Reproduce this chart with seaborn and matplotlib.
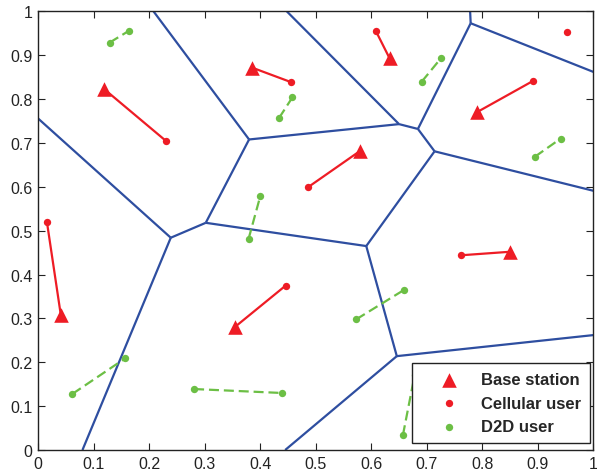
import numpy as np
import pandas as pd
import matplotlib
matplotlib.use("Agg")
import matplotlib.pyplot as plt
import seaborn as sns

# ---- data ----
# base stations and their cellular users
bs_x = [0.119, 0.385, 0.633, 0.790, 0.580, 0.041, 0.355, 0.850]
bs_y = [0.823, 0.872, 0.893, 0.770, 0.682, 0.308, 0.281, 0.452]
cu_x = [0.231, 0.455, 0.608, 0.892, 0.486, 0.016, 0.446, 0.762]
cu_y = [0.704, 0.839, 0.956, 0.842, 0.599, 0.520, 0.375, 0.444]
# lone cellular user
cu_extra_x = [0.952]
cu_extra_y = [0.953]
# D2D pairs (tx, rx)
d2d_x1 = [0.129, 0.434, 0.691, 0.895, 0.379, 0.062, 0.281, 0.573, 0.657]
d2d_y1 = [0.929, 0.757, 0.840, 0.669, 0.481, 0.128, 0.139, 0.298, 0.034]
d2d_x2 = [0.164, 0.458, 0.726, 0.941, 0.400, 0.157, 0.439, 0.659, 0.678]
d2d_y2 = [0.956, 0.804, 0.894, 0.710, 0.578, 0.209, 0.130, 0.365, 0.170]
# Voronoi vertices (inner vertices then border points)
vor_x = [0.239, 0.302, 0.380, 0.650, 0.684, 0.714, 0.779, 0.591, 0.646,
         0.080, 0.000, 0.208, 0.448, 0.778, 1.000, 1.000, 0.445, 1.000]
vor_y = [0.484, 0.518, 0.708, 0.743, 0.732, 0.681, 0.973, 0.465, 0.214,
         0.000, 0.756, 1.000, 1.000, 1.000, 0.862, 0.591, 0.000, 0.262]
vor_edges = [(0, 9), (0, 10), (0, 1), (1, 2), (2, 11), (2, 3), (3, 12), (3, 4),
             (4, 6), (6, 13), (6, 14), (4, 5), (5, 15), (5, 7), (7, 1), (7, 8),
             (8, 16), (8, 17)]
x_ticks = [0, 0.1, 0.2, 0.3, 0.4, 0.5, 0.6, 0.7, 0.8, 0.9, 1]
tick_labels = ["0", "0.1", "0.2", "0.3", "0.4", "0.5", "0.6", "0.7", "0.8", "0.9", "1"]

RED = "#EE1C25"
GREEN = "#6CBF45"
BLUE = "#2E4EA0"

sns.set_style("ticks")
plt.rcParams['font.family'] = ['Liberation Sans', 'DejaVu Sans']

fig = plt.figure(figsize=(5.97, 4.77), dpi=100)
ax = fig.add_axes([0.0637, 0.0545, 0.9303, 0.9195])

# Voronoi edges
for a, b in vor_edges:
    ax.plot([vor_x[a], vor_x[b]], [vor_y[a], vor_y[b]], color=BLUE, lw=1.6,
            solid_capstyle='butt', zorder=2)

# cellular links
for i in range(len(bs_x)):
    ax.plot([bs_x[i], cu_x[i]], [bs_y[i], cu_y[i]], color=RED, lw=1.6, zorder=3)
# D2D links
for i in range(len(d2d_x1)):
    ax.plot([d2d_x1[i], d2d_x2[i]], [d2d_y1[i], d2d_y2[i]], color=GREEN, lw=1.6,
            ls=(0, (4.5, 2.2)), zorder=3)

bs_df = pd.DataFrame({"x": bs_x, "y": bs_y})
cu_df = pd.DataFrame({"x": cu_x + cu_extra_x, "y": cu_y + cu_extra_y})
d2d_df = pd.DataFrame({"x": d2d_x1 + d2d_x2, "y": d2d_y1 + d2d_y2})

sns.scatterplot(data=bs_df, x="x", y="y", marker="^", s=110, color=RED,
                edgecolor=RED, linewidth=0, ax=ax, zorder=4, label="Base station")
sns.scatterplot(data=cu_df, x="x", y="y", marker="o", s=28, color=RED,
                edgecolor=RED, linewidth=0, ax=ax, zorder=4, label="Cellular user")
sns.scatterplot(data=d2d_df, x="x", y="y", marker="o", s=28, color=GREEN,
                edgecolor=GREEN, linewidth=0, ax=ax, zorder=4, label="D2D user")

ax.set_xlim(0, 1)
ax.set_ylim(0, 1)
ax.set_xticks(x_ticks)
ax.set_xticklabels(tick_labels)
ax.set_yticks(x_ticks)
ax.set_yticklabels(tick_labels)
ax.set_xlabel("")
ax.set_ylabel("")
ax.tick_params(direction='in', top=True, right=True, length=5, width=0.8,
               labelsize=11.5, colors='#222222', pad=4)
for s in ax.spines.values():
    s.set_visible(True)
    s.set_linewidth(1.0)
    s.set_color('#222222')

leg = ax.legend(loc='lower right', bbox_to_anchor=(0.994, 0.0153),
                frameon=True, fancybox=False, framealpha=1,
                edgecolor='#222222', prop={'weight': 'bold', 'size': 12},
                borderaxespad=0.0, handletextpad=0.2, labelspacing=0.5,
                borderpad=0.55, handlelength=3.4)
leg.get_frame().set_linewidth(1.0)
leg.set_zorder(10)

fig.savefig("out.png", dpi=100)
